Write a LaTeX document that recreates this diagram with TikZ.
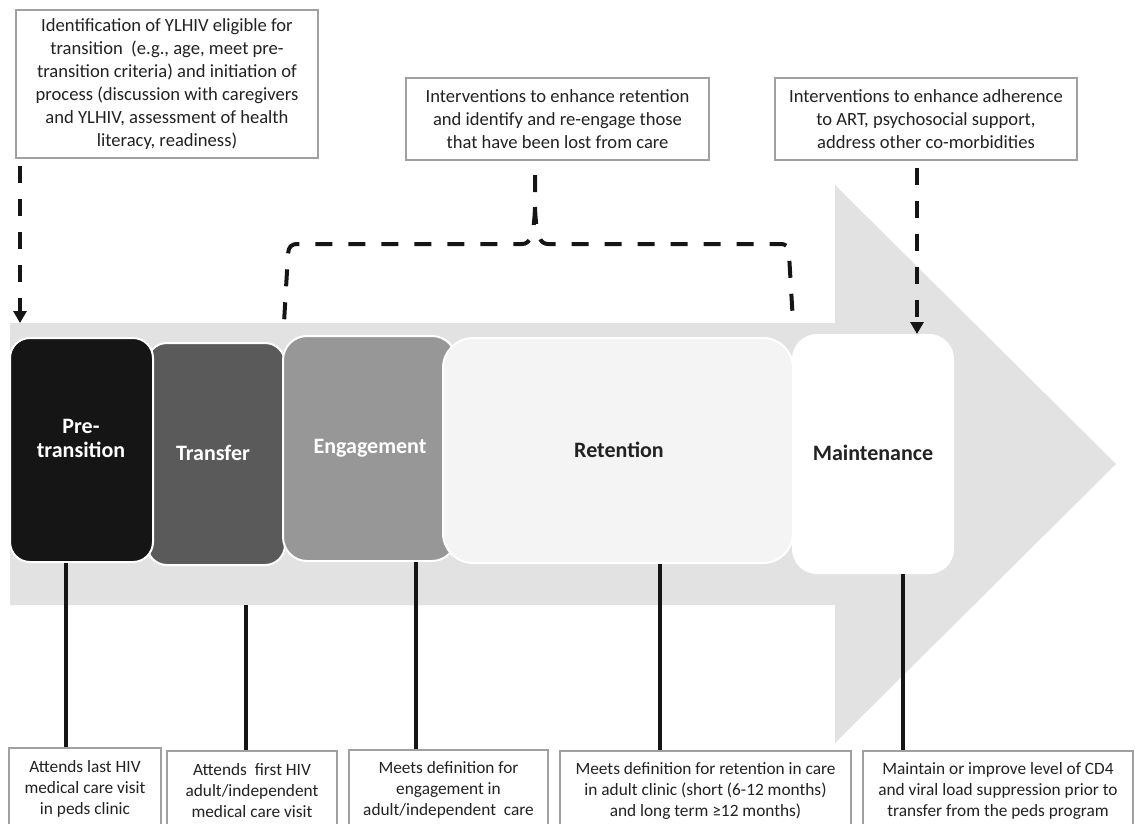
\documentclass[tikz,border=0pt]{standalone}
\usepackage{fontspec}
\setmainfont{Carlito}
\usetikzlibrary{arrows.meta}
\definecolor{bandgray}{HTML}{E2E2E2}
\definecolor{boxline}{HTML}{A0A0A0}
\definecolor{txt}{HTML}{222222}
\definecolor{ptfill}{HTML}{151515}
\definecolor{trfill}{HTML}{5A5A5A}
\definecolor{enfill}{HTML}{979797}
\definecolor{refill}{HTML}{F4F4F4}
\definecolor{mafill}{HTML}{FFFFFF}
\definecolor{linecol}{HTML}{151515}
\begin{document}
\begin{tikzpicture}[x=1pt,y=-1pt,
  notebox/.style={draw=boxline,line width=1.1pt,fill=white,align=center,text=txt,inner sep=0pt},
  topfont/.style={font=\fontsize{18.6}{23}\selectfont},
  botfont/.style={font=\fontsize{17.3}{21}\selectfont},
  phase/.style={draw=white,line width=2pt,inner sep=0pt},
  phaselabel/.style={align=center,font=\bfseries\fontsize{22}{24}\selectfont,inner sep=0pt},
  dashlink/.style={draw=linecol,line width=4pt,dash pattern=on 17pt off 16pt},
  dasharrow/.style={dashlink,-{Triangle[width=13pt,length=12pt]}},
  solidlink/.style={draw=linecol,line width=4pt}
]
\useasboundingbox (0,0) rectangle (1135,824);

% big arrow
\fill[bandgray] (10,323) -- (835,323) -- (835,185) -- (1116,464) -- (835,743) -- (835,605) -- (10,605) -- cycle;
\coordinate (bandbottom) at (0,605);

% phase boxes (drawing order matters)
\node[phase,fill=trfill,rounded corners=20pt,minimum width=138pt,minimum height=222pt] (tr) at (216,454) {};
\node[phase,fill=ptfill,rounded corners=20pt,minimum width=143pt,minimum height=224pt] (pt) at (81.5,450) {};
\node[phase,fill=enfill,rounded corners=24pt,minimum width=173pt,minimum height=225pt] (en) at (369.5,448.5) {};
\node[phase,fill=refill,rounded corners=30pt,minimum width=350pt,minimum height=225pt] (re) at (618,450.5) {};
\node[phase,fill=mafill,rounded corners=24pt,minimum width=160pt,minimum height=238pt] (ma) at (873,454) {};

\node[phaselabel,text=white] (ptl) at (81,438) {Pre-\\transition};
\node[phaselabel,text=white] (trl) at (213,453) {Transfer};
\node[phaselabel,text=white] (enl) at (370,448) {Engagement};
\node[phaselabel,text=txt] (rel) at (619,450) {Retention};
\node[phaselabel,text=txt] (mal) at (873,453) {Maintenance};

% top boxes
\node[notebox,topfont,minimum width=302pt,minimum height=148pt] (tl) at (167,84)
  {Identification of YLHIV eligible for\\transition\ \ (e.g., age, meet pre-\\transition criteria) and initiation of\\process (discussion with caregivers\\and YLHIV, assessment of health\\literacy, readiness)};
\node[notebox,topfont,minimum width=303pt,minimum height=82pt] (tm) at (557.5,119)
  {Interventions to enhance retention\\and identify and re-engage those\\that have been lost from care};
\node[notebox,topfont,minimum width=302pt,minimum height=82pt] (trt) at (926,119)
  {Interventions to enhance adherence\\to ART, psychosocial support,\\address other co-morbidities};

% bottom boxes
\node[notebox,botfont,minimum width=152pt,minimum height=82pt] (b1) at (85,789)
  {Attends last HIV\\medical care visit\\in peds clinic};
\node[notebox,botfont,minimum width=170pt,minimum height=80pt] (b2) at (252,791)
  {Attends\ \ first HIV\\adult/independent\\medical care visit};
\node[notebox,botfont,minimum width=199pt,minimum height=80pt] (b3) at (448.5,790)
  {Meets definition for\\engagement in\\adult/independent\ \ care};
\node[notebox,botfont,minimum width=291pt,minimum height=80pt] (b4) at (705.5,791)
  {Meets definition for retention in care\\in adult clinic (short (6-12 months)\\and long term \symbol{"2265}12 months)};
\node[notebox,botfont,minimum width=270pt,minimum height=80pt] (b5) at (998,791)
  {Maintain or improve level of CD4\\and viral load suppression prior to\\transfer from the peds program};

% x positions of connectors
\coordinate (x1) at (66,0);
\coordinate (x2) at (246,0);
\coordinate (x3) at (416,0);
\coordinate (x4) at (660,0);
\coordinate (x5) at (903,0);
\coordinate (xa) at (20,0);
\coordinate (xb) at (917,0);

% solid connectors to bottom boxes
\draw[solidlink] (pt.south -| x1) -- (b1.north -| x1);
\draw[solidlink] (bandbottom -| x2) -- (b2.north -| x2);
\draw[solidlink] (en.south -| x3) -- (b3.north -| x3);
\draw[solidlink] (re.south -| x4) -- (b4.north -| x4);
\draw[solidlink] (ma.south -| x5) -- (b5.north -| x5);

% dashed arrows
\coordinate (bandtop) at (0,323);
\draw[dasharrow,shorten <=7pt] (tl.south -| xa) -- (bandtop -| xa);
\draw[dasharrow,shorten <=7pt] (trt.south -| xb) -- (ma.north -| xb);

% bracket
\coordinate (stemtop) at (535,175);
\coordinate (tip) at (535,207);
\coordinate (lfoot) at (284,323);
\coordinate (rfoot) at (793,322);
\draw[dashlink] (stemtop) -- (tip) .. controls (534,236) and (530,244) .. (522,244)
  -- (298,244) .. controls (291,244) and (288.5,247) .. (288,254) -- (lfoot);
\draw[dashlink] (tip) .. controls (536,236) and (540,244) .. (548,244)
  -- (780,244) .. controls (787,244) and (789,247) .. (789,254) -- (rfoot);
\end{tikzpicture}
\end{document}
